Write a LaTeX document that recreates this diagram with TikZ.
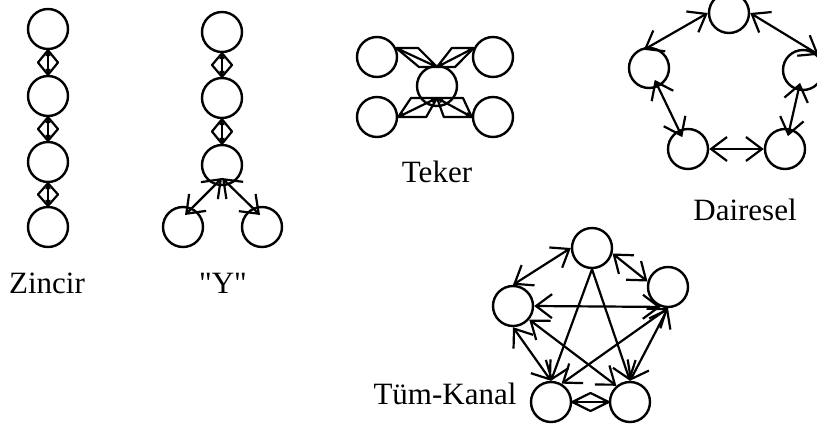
\documentclass[tikz,border=0pt]{standalone}
\usepackage{fontspec}
\setmainfont{Liberation Serif}[Ligatures=TeXOff]
\usetikzlibrary{arrows.meta,calc}
\tikzset{
  nd/.style={circle, draw, line width=2.4pt, minimum size=40pt, inner sep=0pt},
  lbl/.style={font=\fontsize{31}{37}\selectfont, anchor=base, inner sep=0pt},
  ln/.style={line width=2.2pt, line join=round},
  con/.style={ln, arrows={Straight Barb[length=16pt,width=24pt]-Straight Barb[length=16pt,width=24pt]}},
  one/.style={ln, arrows={-Straight Barb[length=16pt,width=24pt]}},
  shaft/.style={ln, arrows={Triangle[length=6pt,width=5pt]-Triangle[length=6pt,width=5pt]}},
}
% diamond double connector between two anchors, #3 = half-width offset
\newcommand\dmnd[3]{%
  \draw[ln] (#1) -- ($(#1)!.5!(#2)+(#3)$) -- (#2) -- ($(#1)!.5!(#2)-(#3)$) -- cycle;
  \draw[shaft] (#1) -- (#2);}
\begin{document}
\begin{tikzpicture}[x=1pt,y=-1pt]
\useasboundingbox (0,0) rectangle (817,424);
\clip (0,0) rectangle (817,424);

% Zincir
\node[nd] (z1) at (48,29) {};
\node[nd] (z2) at (48,96) {};
\node[nd] (z3) at (48,162) {};
\node[nd] (z4) at (48,227) {};
\dmnd{z1.south}{z2.north}{10,0}
\dmnd{z2.south}{z3.north}{10,0}
\dmnd{z3.south}{z4.north}{10,0}
\node[lbl] (zlab) at (47,293) {Zincir};

% Y
\node[nd] (y1) at (222,32) {};
\node[nd] (y2) at (222,98) {};
\node[nd] (y3) at (222,165) {};
\node[nd] (y4) at (183,227) {};
\node[nd] (y5) at (262,227) {};
\dmnd{y1.south}{y2.north}{10,0}
\dmnd{y2.south}{y3.north}{10,0}
\draw[con] ($(y3)+(0,13)$) -- ($(y4)+(2,-12)$);
\draw[con] ($(y3)+(0,13)$) -- ($(y5)+(-2,-12)$);
\node[lbl] (ylab) at (223,293) {"Y"};

% Teker
\node[nd] (c)  at (437,86) {};
\node[nd] (tl) at (377,57) {};
\node[nd] (tr) at (493,57) {};
\node[nd] (bl) at (377,117) {};
\node[nd] (br) at (493,117) {};
\coordinate (ct) at ($(c)+(0,-19)$);
\coordinate (cb) at ($(c)+(0,12)$);
\draw[ln] (tl.25) -- ++(22,0) -- (ct) -- ++(-18,0) -- cycle;
\draw[shaft] (tl.25) -- (ct);
\draw[ln] (tr.155) -- ++(-22,0) -- (ct) -- ++(18,0) -- cycle;
\draw[shaft] (tr.155) -- (ct);
\draw[ln] (bl.east) -- ++(28,0) -- (cb) -- ++(-26,0) -- cycle;
\draw[shaft] (bl.east) -- (cb);
\draw[ln] (br.west) -- ++(-28,0) -- (cb) -- ++(26,0) -- cycle;
\draw[shaft] (br.west) -- (cb);
\node[lbl] (tlab) at (437,182.5) {Teker};

% Dairesel
\node[nd] (dt)  at (729,13) {};
\node[nd] (dl)  at (649,68) {};
\node[nd] (dr)  at (803,70) {};
\node[nd] (dbl) at (688,149) {};
\node[nd] (dbr) at (785,149) {};
\draw[con, shorten >=-6pt] (dt.west) -- (dl.north);
\draw[con, shorten >=-6pt] (dt.east) -- (dr.60);
\draw[con, shorten >=-8pt, shorten <=-8pt] (dl) -- (dbl);
\draw[con, shorten >=-8pt, shorten <=-8pt] (dr) -- (dbr);
\draw[con] (dbl.east) -- (dbr.west);
\node[lbl] (dlab) at (745,220.5) {Dairesel};

% Tum-Kanal
\node[nd] (kt)  at (592,248) {};
\node[nd] (kl)  at (513,306) {};
\node[nd] (kr)  at (668,287) {};
\node[nd] (kbl) at (551,402) {};
\node[nd] (kbr) at (630,402) {};
\draw[con] (kt.west) -- (kl.north);
\draw[con] (kt.-15) -- (kr.165);
\draw[con] (kl.east) -- (kr.250);
\draw[one] (kt.south) -- (kbl.north);
\draw[one] (kt.south) -- (kbr.north);
\draw[con] (kl.south) -- (kbl.north);
\draw[con] (kl.-40) -- (kbr.130);
\draw[con] (kr.south) -- (kbl.60);
\draw[con] (kr.south) -- (kbr.north);
\dmnd{kbl.east}{kbr.west}{0,9}
\node[lbl] (klab) at (445,404) {Tüm-Kanal};
\end{tikzpicture}
\end{document}
